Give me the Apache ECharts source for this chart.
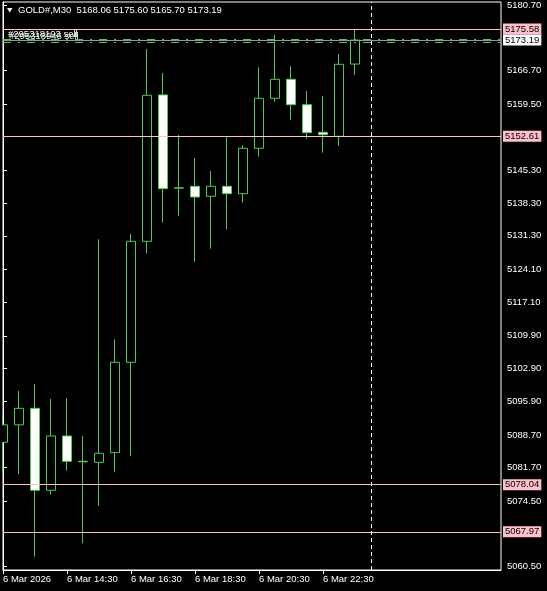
<!DOCTYPE html>
<html><head><meta charset="utf-8">
<script src="https://cdn.jsdelivr.net/npm/echarts@6/dist/echarts.min.js"></script>
<style>html,body{margin:0;padding:0;background:#000;}#c{width:547px;height:591px;}</style>
</head><body><div id="c"></div>
<script>
// ---- data ----
const times = ['12:30','13:00','13:30','14:00','14:30','15:00','15:30','16:00','16:30','17:00','17:30','18:00',
               '18:30','19:00','19:30','20:00','20:30','21:00','21:30','22:00','22:30','23:00','23:30'];
const opens  = [5087.12,5090.85,5094.39,5076.85,5088.47,5083.05,5082.84,5084.90,5104.24,5130.13,5161.45,5141.50,
                5141.90,5139.76,5141.90,5140.32,5150.03,5160.73,5164.80,5159.36,5153.46,5152.60,5168.06];
const highs  = [5092.75,5098.10,5099.60,5096.39,5096.54,5088.47,5130.56,5109.16,5131.70,5171.28,5166.15,5152.88,
                5147.96,5145.18,5152.39,5150.68,5167.37,5174.28,5167.58,5162.30,5161.23,5170.21,5175.60];
const lows   = [5080.70,5080.27,5062.64,5075.91,5081.04,5065.51,5073.55,5080.83,5084.19,5127.56,5134.11,5135.61,
                5125.77,5128.55,5132.70,5138.39,5148.24,5160.01,5156.15,5152.09,5149.09,5150.59,5165.70];
const closes = [5090.85,5094.39,5076.85,5088.47,5083.05,5082.95,5084.77,5104.24,5130.13,5161.38,5141.39,5141.60,
                5139.61,5141.90,5140.32,5150.03,5160.73,5164.80,5159.36,5153.37,5152.94,5168.01,5173.19];
const yTickValues = [5180.70,5166.70,5159.50,5145.30,5138.30,5131.30,5124.10,5117.10,5109.90,5102.90,5095.90,
                     5088.70,5081.70,5074.50,5060.50];
const xTickBars = [0,4,8,12,16,20];
const xTickLabels = ['6 Mar 2026','6 Mar 14:30','6 Mar 16:30','6 Mar 18:30','6 Mar 20:30','6 Mar 22:30'];
const levelLines = [5175.58, 5152.61, 5078.04, 5067.97];
const bidPrice = 5173.19;
const orderLevels = [5173.45, 5172.75];
const cursorBar = 23;
const symbolName = 'GOLD#,M30';
const headerValues = [5168.06, 5175.60, 5165.70, 5173.19];
const orderTags = ['#295318193 sell', '#295318946 sell'];

// ---- chart ----
const FONT = 'Liberation Sans';
const FS = 9.5;
const GREEN = '#52c852';
const PINK = '#ffc0cb';

const candleData = times.map((t, i) => [i, opens[i], closes[i], lows[i], highs[i]]);

const markData = [];
levelLines.forEach(v => {
  markData.push({
    yAxis: v,
    lineStyle: {color: PINK, width: 1, type: 'solid'},
    label: {show: true, position: 'end', distance: 2, formatter: v.toFixed(2),
            backgroundColor: PINK, color: '#000', padding: [1, 2, 0, 2],
            fontFamily: FONT, fontSize: FS}
  });
});
orderLevels.forEach(v => {
  markData.push({
    yAxis: v,
    lineStyle: {color: GREEN, width: 1, type: [8, 7, 2, 7]},
    label: {show: false}
  });
});
markData.push({
  yAxis: bidPrice,
  lineStyle: {color: '#8a99a8', width: 1, type: 'solid'},
  label: {show: true, position: 'end', distance: 2, formatter: bidPrice.toFixed(2),
          backgroundColor: '#fff', color: '#000', padding: [1, 2, 0, 2],
          fontFamily: FONT, fontSize: FS}
});
markData.push({
  xAxis: cursorBar,
  lineStyle: {color: '#fff', width: 1, type: [4, 3]},
  label: {show: false}
});

const chart = echarts.init(document.getElementById('c'), null, {renderer: 'canvas'});
chart.setOption({
  backgroundColor: '#000',
  animation: false,
  textStyle: {fontFamily: FONT},
  grid: {left: 3, right: 46, top: 2, bottom: 21, show: true, borderColor: '#fff', borderWidth: 1,
         containLabel: false, outerBoundsMode: 'none'},
  xAxis: {
    type: 'value', min: 0, max: 31.125,
    splitLine: {show: false},
    axisLine: {show: true, lineStyle: {color: '#fff'}},
    axisTick: {show: true, length: 4, lineStyle: {color: '#fff'}, customValues: xTickBars},
    axisLabel: {show: true, customValues: xTickBars, align: 'left', margin: 4,
                color: '#fff', fontFamily: FONT, fontSize: FS,
                formatter: v => xTickLabels[xTickBars.indexOf(Math.round(v))] || ''}
  },
  yAxis: {
    type: 'value', position: 'right', min: 5059.79, max: 5181.34, scale: true,
    splitLine: {show: false},
    axisLine: {show: true, lineStyle: {color: '#fff'}},
    axisTick: {show: true, length: 4, lineStyle: {color: '#fff'}, customValues: yTickValues},
    axisLabel: {show: true, customValues: yTickValues, margin: 6,
                color: '#fff', fontFamily: FONT, fontSize: FS,
                formatter: v => v.toFixed(2)}
  },
  series: [{
    type: 'candlestick',
    data: candleData,
    encode: {x: 0, y: [1, 2, 3, 4]},
    barWidth: 10,
    clip: true,
    itemStyle: {color: '#000', color0: '#fff', borderColor: GREEN, borderColor0: GREEN, borderWidth: 1},
    markLine: {symbol: 'none', silent: true, animation: false, data: markData}
  }],
  graphic: [
    {type: 'rect', shape: {x: 0, y: 0, width: 2, height: 591}, style: {fill: '#000'}, z: 100},
    {type: 'polygon', shape: {points: [[7, 8], [12.5, 8], [9.75, 12.5]]}, style: {fill: '#fff'}},
    {type: 'text', x: 18, y: 10.5, style: {text: symbolName + '  ' + headerValues.map(v => v.toFixed(2)).join(' '),
      fill: '#fff', font: FS + 'px "' + FONT + '"', verticalAlign: 'middle'}},
    {type: 'text', x: 8, y: 34, style: {text: orderTags[0], fill: '#fff', font: FS + 'px "' + FONT + '"', verticalAlign: 'middle'}},
    {type: 'text', x: 9, y: 36, style: {text: orderTags[1], fill: '#e8ffe8', font: FS + 'px "' + FONT + '"', verticalAlign: 'middle'}}
  ]
});
</script></body></html>
